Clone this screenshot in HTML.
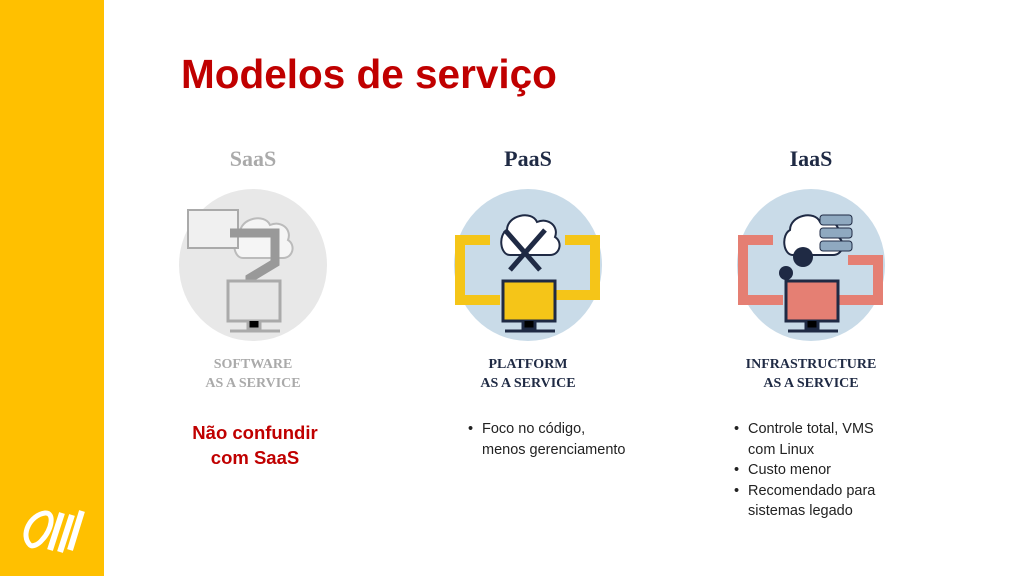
<!DOCTYPE html>
<html><head><meta charset="utf-8"><style>
body{margin:0;width:1024px;height:576px;position:relative;background:#fff;overflow:hidden;font-family:"Liberation Sans",sans-serif}
.side{position:absolute;left:0;top:0;width:104px;height:576px;background:#FFC000}
h1{position:absolute;left:181px;top:51px;margin:0;font-size:40.5px;color:#C00000;font-weight:bold}
.t{position:absolute;font-family:"Liberation Serif",serif;font-weight:bold;text-align:center;width:200px}
.hd{font-size:22px;top:146px}
.sub{font-size:14px;top:355px;line-height:19px}
ul{position:absolute;margin:0;padding:0;list-style:none;font-size:14.5px;color:#222;line-height:20.5px}
li{padding-left:16px;position:relative}
li:before{content:"•";position:absolute;left:2px}
</style></head><body>
<div class="side"></div>
<svg style="position:absolute;left:20px;top:505px" width="70" height="50" viewBox="0 0 70 50">
<path d="M10 40 C0 30 10 10 25 8 C35 7 32 25 22 35 C18 40 12 42 10 40Z" fill="none" stroke="#fff" stroke-width="5"/>
<path d="M30 45 L42 8 M40 47 L52 10 M50 45 L62 6" stroke="#fff" stroke-width="6"/>
</svg>
<h1>Modelos de serviço</h1>

<div class="t hd" style="left:153px;color:#aaa">SaaS</div>
<div class="t hd" style="left:428px;color:#1f2a44">PaaS</div>
<div class="t hd" style="left:711px;color:#1f2a44">IaaS</div>

<svg style="position:absolute;left:170px;top:185px" width="170" height="160">
<ellipse cx="83" cy="80" rx="74" ry="76" fill="#e8e8e8"/>
<path d="M70 48 c0-15 25-20 30-8 c12-5 22 5 18 15 c8 5 5 18-5 18 h-40 c-10 0-12-20-3-25z" fill="#f5f5f5" stroke="#bbb" stroke-width="2"/>
<rect x="18" y="25" width="50" height="38" fill="#f0f0f0" stroke="#aaa" stroke-width="2"/>
<path d="M60 48 h45 v30 l-25 15 v15" fill="none" stroke="#999" stroke-width="9"/>
<path d="M68 100 l12 18 l12 -18z" fill="#999"/>
<rect x="58" y="96" width="52" height="40" fill="#e6e6e6" stroke="#aaa" stroke-width="3"/>
<path d="M78 136 v8 h12 v-8 M60 146 h50" stroke="#aaa" stroke-width="3"/>
</svg>
<svg style="position:absolute;left:445px;top:185px" width="170" height="160">
<ellipse cx="83" cy="80" rx="74" ry="76" fill="#c9dbe8"/>
<path d="M62 45 c0-15 25-20 30-8 c12-5 22 5 18 15 c8 5 5 18-5 18 h-40 c-10 0-12-20-3-25z" fill="#fff" stroke="#1f2a44" stroke-width="2"/>
<path d="M60 45 L95 85 M100 45 L65 85" stroke="#1f2a44" stroke-width="5"/>
<path d="M45 55 h-30 v60 h40 M120 55 h30 v55 h-40" fill="none" stroke="#f5c518" stroke-width="10"/>
<rect x="58" y="96" width="52" height="40" fill="#f5c518" stroke="#1f2a44" stroke-width="3"/>
<path d="M78 136 v8 h12 v-8 M60 146 h50" stroke="#1f2a44" stroke-width="3"/>
</svg>
<svg style="position:absolute;left:728px;top:185px" width="170" height="160">
<ellipse cx="83" cy="80" rx="74" ry="76" fill="#c9dbe8"/>
<path d="M62 45 c0-15 25-20 30-8 c12-5 22 5 18 15 c8 5 5 18-5 18 h-40 c-10 0-12-20-3-25z" fill="#fff" stroke="#1f2a44" stroke-width="2"/>
<rect x="92" y="30" width="32" height="10" rx="3" fill="#8fa9c0" stroke="#1f2a44"/><rect x="92" y="43" width="32" height="10" rx="3" fill="#8fa9c0" stroke="#1f2a44"/><rect x="92" y="56" width="32" height="10" rx="3" fill="#8fa9c0" stroke="#1f2a44"/>
<circle cx="75" cy="72" r="10" fill="#1f2a44"/><circle cx="58" cy="88" r="7" fill="#1f2a44"/>
<path d="M45 55 h-30 v60 h40 M120 75 h30 v40 h-40" fill="none" stroke="#e57f73" stroke-width="10"/>
<rect x="58" y="96" width="52" height="40" fill="#e57f73" stroke="#1f2a44" stroke-width="3"/>
<path d="M78 136 v8 h12 v-8 M60 146 h50" stroke="#1f2a44" stroke-width="3"/>
</svg>

<div class="t sub" style="left:153px;color:#aaa">SOFTWARE<br>AS A SERVICE</div>
<div class="t sub" style="left:428px;color:#1f2a44">PLATFORM<br>AS A SERVICE</div>
<div class="t sub" style="left:711px;color:#1f2a44">INFRASTRUCTURE<br>AS A SERVICE</div>

<div style="position:absolute;left:155px;top:420px;width:200px;text-align:center;color:#C00000;font-weight:bold;font-size:18.5px;line-height:25px">Não confundir<br>com SaaS</div>
<ul style="left:466px;top:419px"><li>Foco no código,<br>menos gerenciamento</li></ul>
<ul style="left:732px;top:419px"><li>Controle total, VMS<br>com Linux</li><li>Custo menor</li><li>Recomendado para<br>sistemas legado</li></ul>
</body></html>
